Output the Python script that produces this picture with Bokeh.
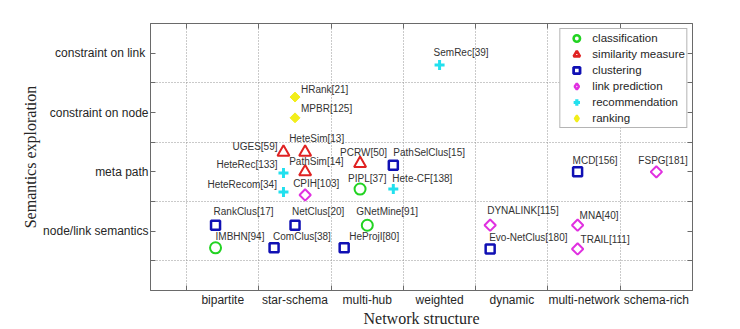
import numpy as np
from bokeh.plotting import figure
from bokeh.models import (Range1d, FixedTicker, LinearAxis, ColumnDataSource,
                          Legend, LegendItem)
from bokeh.core.properties import value
from bokeh.embed import file_html
from bokeh.resources import INLINE

# ---------------- data ----------------
x_tick_labels = ["bipartite", "star-schema", "multi-hub", "weighted",
                 "dynamic", "multi-network", "schema-rich"]
y_tick_labels = ["node/link semantics", "meta path", "constraint on node",
                 "constraint  on link"]

categories = ["classification", "similarity measure", "clustering",
              "link prediction", "recommendation", "ranking"]

classification_names = ["IMBHN[94]", "PIPL[37]", "GNetMine[91]"]
classification_x = [1.40, 3.40, 3.50]
classification_y = [0.72, 1.71, 1.10]

similarity_names = ["UGES[59]", "HeteSim[13]", "PathSim[14]", "PCRW[50]"]
similarity_x = [2.34, 2.64, 2.64, 3.40]
similarity_y = [2.33, 2.33, 2.00, 2.14]

clustering_names = ["RankClus[17]", "NetClus[20]", "ComClus[38]", "HeProjI[80]",
                    "PathSelClus[15]", "MCD[156]", "Evo-NetClus[180]"]
clustering_x = [1.40, 2.50, 2.21, 3.18, 3.86, 6.41, 5.20]
clustering_y = [1.10, 1.10, 0.72, 0.72, 2.11, 2.00, 0.70]

linkpred_names = ["CPIH[103]", "FSPG[181]", "DYNALINK[115]", "MNA[40]", "TRAIL[111]"]
linkpred_x = [2.64, 7.50, 5.20, 6.41, 6.41]
linkpred_y = [1.61, 2.00, 1.10, 1.10, 0.70]

recommend_names = ["SemRec[39]", "HeteRec[133]", "HeteRecom[34]", "Hete-CF[138]"]
recommend_x = [4.50, 2.34, 2.34, 3.86]
recommend_y = [3.80, 1.98, 1.66, 1.71]

ranking_names = ["HRank[21]", "MPBR[125]"]
ranking_x = [2.50, 2.50]
ranking_y = [3.26, 2.91]

# label placement (pixel offsets of the text's left edge / vertical centre)
classification_ldx = [0, -12, -11]
classification_ldy = [11, 11, 14]
similarity_ldx = [-51, -16, -16, -20]
similarity_ldy = [6, 14, 10, 11]
clustering_ldx = [-2, -3, -1, 5, 0, -5, -1]
clustering_ldy = [14, 14, 11, 11, 13, 11, 11]
linkpred_ldx = [-12, -18, -3, 2, 3]
linkpred_ldy = [11, 11, 15, 10, 9]
recommend_ldx = [-6, -67, -76, -1]
recommend_ldy = [13, 9, 8, 11]
ranking_ldx = [6, 6]
ranking_ldy = [8, 9]

series = [
    (classification_names, classification_x, classification_y, classification_ldx, classification_ldy),
    (similarity_names, similarity_x, similarity_y, similarity_ldx, similarity_ldy),
    (clustering_names, clustering_x, clustering_y, clustering_ldx, clustering_ldy),
    (linkpred_names, linkpred_x, linkpred_y, linkpred_ldx, linkpred_ldy),
    (recommend_names, recommend_x, recommend_y, recommend_ldx, recommend_ldy),
    (ranking_names, ranking_x, ranking_y, ranking_ldx, ranking_ldy),
]

# plot marker style, and the marker used for the legend swatch
styles = [
    dict(marker="circle", size=11, line_color="#22d322", fill_color=None, line_width=2, angle=0, lmarker="circle", llw=2.6),
    dict(marker="triangle", size=12, line_color="#e02222", fill_color=None, line_width=2, angle=0, lmarker="triangle", llw=2.6),
    dict(marker="square", size=9, line_color="#1010b4", fill_color=None, line_width=2.5, angle=0, lmarker="square", llw=2.8),
    dict(marker="square", size=8, line_color="#e030e0", fill_color=None, line_width=2, angle=np.pi / 4, lmarker="diamond", llw=2.4),
    dict(marker="cross", size=10, line_color="#22e0ee", fill_color=None, line_width=3, angle=0, lmarker="cross", llw=3.2),
    dict(marker="square", size=7, line_color="#f2ee1a", fill_color="#f2ee1a", line_width=1, angle=np.pi / 4, lmarker="diamond", llw=2),
]

FONT = "Liberation Sans"
AXIS_COLOR = "#6a6a6a"
TEXT_COLOR = "#262626"

x_min, x_max = 0.5, 8.0
y_min, y_max = 0.0, 4.5

p = figure(width=740, height=329, output_backend="svg", toolbar_location=None,
           x_range=Range1d(x_min, x_max), y_range=Range1d(y_min, y_max),
           x_axis_location=None, y_axis_location=None,
           min_border_left=150, min_border_right=48,
           min_border_top=23, min_border_bottom=36)
p.background_fill_color = "white"
p.border_fill_color = "white"
p.outline_line_color = AXIS_COLOR

x_grid_pos = list(range(1, 8))
x_label_pos = [i + 0.5 for i in range(1, 8)]
y_label_pos = [1, 2, 3, 4]
y_grid_pos = [0.5, 1.5, 2.5, 3.5]
y_all_pos = sorted(y_label_pos + y_grid_pos)


def style_axis(ax):
    ax.axis_line_color = AXIS_COLOR
    ax.major_tick_line_color = AXIS_COLOR
    ax.minor_tick_line_color = AXIS_COLOR
    ax.major_tick_out = 0
    ax.minor_tick_out = 0
    ax.major_tick_in = 5
    ax.minor_tick_in = 5
    ax.major_label_text_font = FONT
    ax.major_label_text_font_size = "12px"
    ax.major_label_text_color = TEXT_COLOR
    ax.major_label_standoff = 2


xb = LinearAxis(ticker=FixedTicker(ticks=x_label_pos, minor_ticks=x_grid_pos))
style_axis(xb)
xb.major_tick_in = 0
xb.major_label_overrides = {v: s for v, s in zip(x_label_pos, x_tick_labels)}
xb.axis_label = "Network structure"
xb.axis_label_text_font = "Liberation Serif"
xb.axis_label_text_font_size = "16px"
xb.axis_label_text_font_style = "normal"
xb.axis_label_text_color = TEXT_COLOR
xb.axis_label_standoff = 0
p.add_layout(xb, "below")

xt = LinearAxis(ticker=FixedTicker(ticks=[], minor_ticks=x_grid_pos))
style_axis(xt)
p.add_layout(xt, "above")

yl = LinearAxis(ticker=FixedTicker(ticks=y_label_pos, minor_ticks=y_grid_pos))
style_axis(yl)
yl.major_label_overrides = {v: s for v, s in zip(y_label_pos, y_tick_labels)}
yl.axis_label = "Semantics exploration"
yl.axis_label_text_font = "Liberation Serif"
yl.axis_label_text_font_size = "16px"
yl.axis_label_text_font_style = "normal"
yl.axis_label_text_color = TEXT_COLOR
yl.axis_label_standoff = 1
p.add_layout(yl, "left")

yr = LinearAxis(ticker=FixedTicker(ticks=[], minor_ticks=y_all_pos))
style_axis(yr)
p.add_layout(yr, "right")

p.xgrid.ticker = FixedTicker(ticks=x_grid_pos)
p.ygrid.ticker = FixedTicker(ticks=y_grid_pos)
for g in (p.xgrid, p.ygrid):
    g.grid_line_color = "#949494"
    g.grid_line_dash = "1 2"
    g.grid_line_width = 1

legend_items = []
for cat, (names, xs, ys, ldx, ldy), st in zip(categories, series, styles):
    src = ColumnDataSource(dict(x=xs, y=ys, name=names, dx=ldx,
                                dy=[-d for d in ldy]))
    p.scatter("x", "y", source=src, marker=st["marker"], size=st["size"],
              line_color=st["line_color"], fill_color=st["fill_color"],
              line_width=st["line_width"], angle=st["angle"])
    p.text("x", "y", text="name", source=src, x_offset="dx", y_offset="dy",
           text_align="left", text_baseline="middle",
           text_font=value(FONT), text_font_size="10px", text_color="#333333")
    # legend swatch (a not-drawn point: the legend ignores marker angles)
    lr = p.scatter(x=[float("nan")], y=[float("nan")], marker=st["lmarker"],
                   line_color=st["line_color"], fill_color=st["fill_color"],
                   line_width=st["llw"])
    legend_items.append(LegendItem(label=cat, renderers=[lr]))

legend = Legend(items=legend_items, location="top_right")
legend.margin = 5
legend.padding = 1
legend.spacing = 0
legend.label_height = 16
legend.glyph_height = 16
legend.glyph_width = 30
legend.label_standoff = 1
legend.label_text_font = FONT
legend.label_text_font_size = "11.5px"
legend.label_text_color = TEXT_COLOR
legend.border_line_color = "#6a6a6a"
legend.border_line_width = 1
legend.background_fill_color = "white"
legend.background_fill_alpha = 1
p.add_layout(legend)

open("out.html", "w").write(file_html(p, INLINE))
